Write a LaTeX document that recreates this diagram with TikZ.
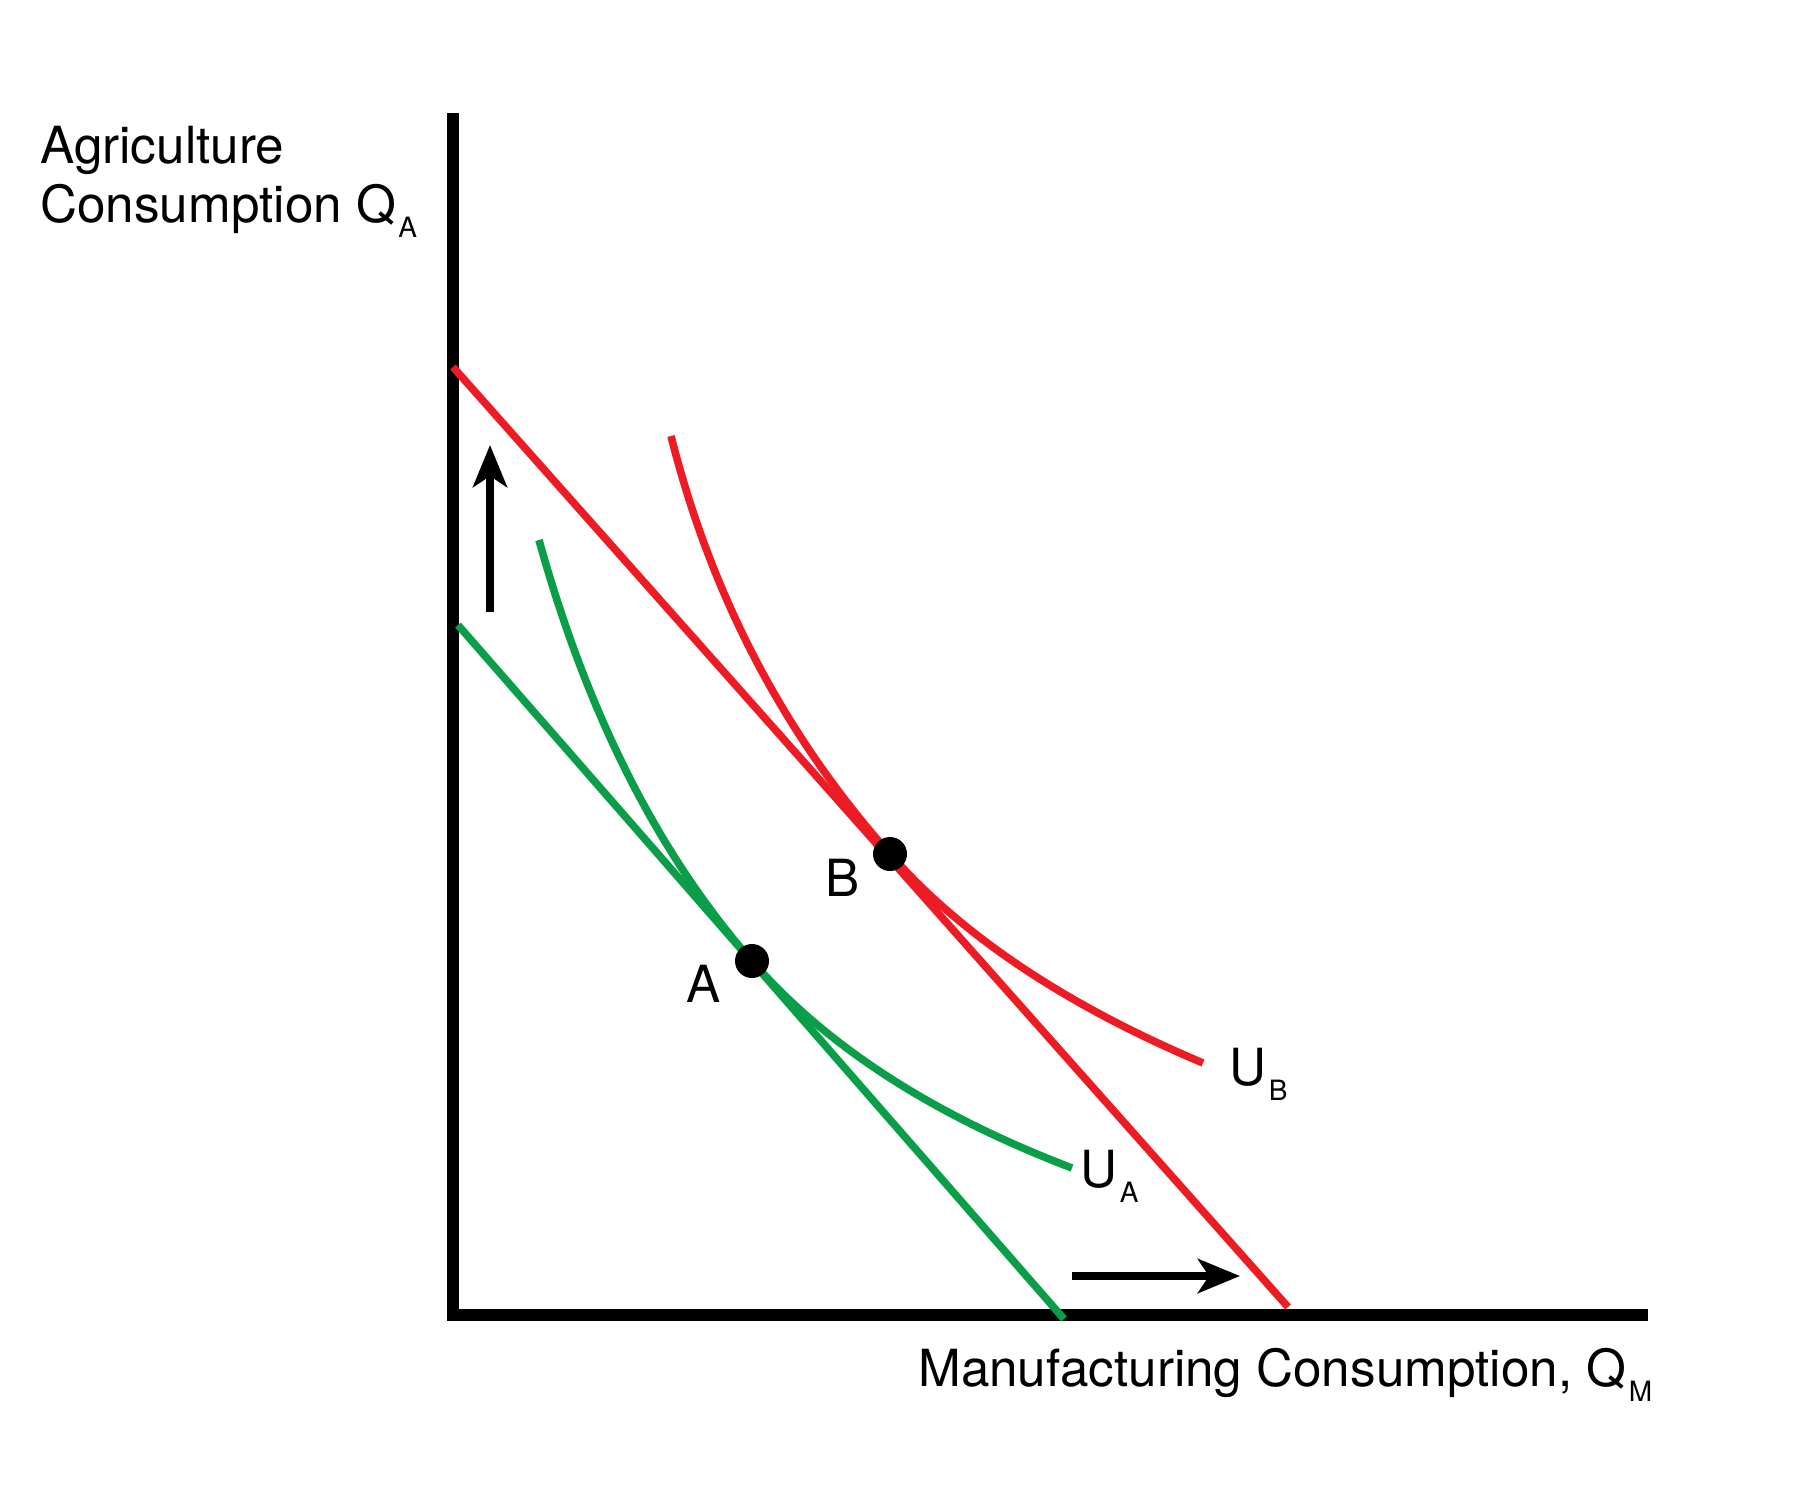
\documentclass[tikz,border=0pt]{standalone}
\usepackage{fontspec}
\setmainfont{TeX Gyre Heros}
\usetikzlibrary{arrows.meta}
\definecolor{curvered}{RGB}{237,28,36}
\definecolor{curvegreen}{RGB}{10,158,72}
\newcommand{\lowsub}[1]{\kern1.2pt\raisebox{-7.5pt}{\fontsize{14}{15}\selectfont #1}}
\begin{document}
\begin{tikzpicture}[x=0.5pt,y=-0.5pt,
  axisline/.style={line width=6pt, line join=miter},
  redline/.style={curvered, line width=3.8pt},
  greenline/.style={curvegreen, line width=3.8pt},
  shiftarrow/.style={line width=4pt, -{Stealth[length=21pt,width=17pt,inset=5.5pt]}},
  lbl/.style={inner sep=0pt, anchor=base west, font=\fontsize{25.6}{30}\selectfont},
  dot/.style={circle, fill=black, minimum size=17pt, inner sep=0pt}]
\useasboundingbox (0,0) rectangle (1800,1500);
% axes
\coordinate (ytop) at (453,113);
\coordinate (origin) at (453,1314.5);
\coordinate (xend) at (1648,1314.5);
\draw[axisline] (ytop) -- (origin) -- (xend);
% budget lines
\coordinate (rb1) at (453,367);
\coordinate (rb2) at (1288,1307);
\coordinate (gb1) at (458,625);
\coordinate (gb2) at (1064,1319);
\draw[redline] (rb1) -- (rb2);
\draw[greenline] (gb1) -- (gb2);
% indifference curves
\coordinate (rs) at (671,436);
\coordinate (B) at (890,854);
\coordinate (re) at (1203,1063);
\draw[redline] (rs) .. controls (711,595) and (784,735) .. (B)
  .. controls (963,937) and (1068,1006) .. (re);
\coordinate (gs) at (539,540);
\coordinate (A) at (752,961);
\coordinate (ge) at (1072,1168);
\draw[greenline] (gs) .. controls (587,713) and (658,854) .. (A)
  .. controls (826,1046) and (933,1115) .. (ge);
% shift arrows
\coordinate (ua1) at (490,612);
\coordinate (ua2) at (490,445);
\draw[shiftarrow] (ua1) -- (ua2);
\coordinate (ra1) at (1072,1276);
\coordinate (ra2) at (1240,1276);
\draw[shiftarrow] (ra1) -- (ra2);
% points
\node[dot] (dotB) at (B) {};
\node[dot] (dotA) at (A) {};
% labels
\node[lbl] (labB) at (825,896) {B};
\node[lbl] (labA) at (686,1002) {A};
\node[lbl] (labUB) at (1229,1085) {U\lowsub{B}};
\node[lbl] (labUA) at (1080,1187) {U\lowsub{A}};
\node[lbl] (ylab1) at (40,163) {Agriculture};
\node[lbl] (ylab2) at (40,222) {Consumption Q\lowsub{A}};
\node[lbl] (xlab) at (918,1386) {Manufacturing Consumption, Q\lowsub{M}};
\end{tikzpicture}
\end{document}
